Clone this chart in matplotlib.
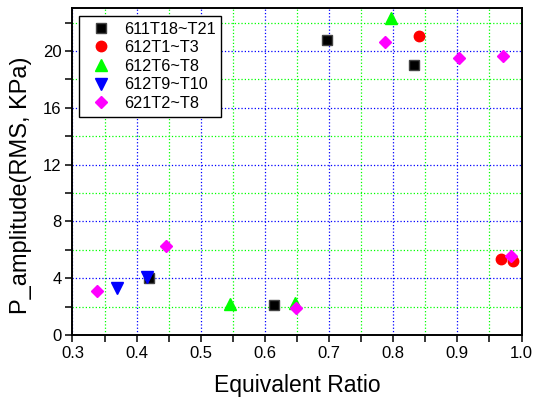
import matplotlib
matplotlib.use("Agg")
import matplotlib.pyplot as plt
from matplotlib.ticker import MultipleLocator

plt.rcParams['font.family'] = ['Liberation Sans', 'DejaVu Sans']

# series: (equivalent ratio, P amplitude)
s611_x = [0.420, 0.6145, 0.696, 0.833]
s611_y = [4.05, 2.13, 20.75, 19.0]
s612a_x = [0.840, 0.968, 0.987]
s612a_y = [21.05, 5.33, 5.2]
s612b_x = [0.545, 0.647, 0.796]
s612b_y = [2.2, 2.27, 22.3]
s612c_x = [0.370, 0.416]
s612c_y = [3.3, 4.1]
s621_x = [0.338, 0.445, 0.649, 0.7875, 0.903, 0.971, 0.983]
s621_y = [3.14, 6.3, 1.94, 20.6, 19.5, 19.67, 5.6]

labels = ['611T18~T21', '612T1~T3', '612T6~T8', '612T9~T10', '621T2~T8']

fig = plt.figure(figsize=(5.41, 3.98), dpi=100)
ax = fig.add_axes([0.134, 0.158, 0.830, 0.821])

ax.plot(s611_x, s611_y, 's', color='black', ms=6.5, mec='#444444', label=labels[0], zorder=5)
ax.plot(s612a_x, s612a_y, 'o', color='#ff0000', ms=7.5, mec='#ff0000', label=labels[1], zorder=5)
ax.plot(s612b_x, s612b_y, '^', color='#00ff00', ms=8, mec='#00ff00', label=labels[2], zorder=5)
ax.plot(s612c_x, s612c_y, 'v', color='#0000ff', ms=8, mec='#0000ff', label=labels[3], zorder=5)
ax.plot(s621_x, s621_y, 'D', color='#ff00ff', ms=6.5, mec='#ff00ff', label=labels[4], zorder=5)

ax.set_xlim(0.3, 1.0)
ax.set_ylim(0, 23)
ax.xaxis.set_major_locator(MultipleLocator(0.1))
ax.xaxis.set_minor_locator(MultipleLocator(0.05))
ax.yaxis.set_major_locator(MultipleLocator(4))
ax.yaxis.set_minor_locator(MultipleLocator(2))
ax.xaxis.set_major_formatter(plt.FormatStrFormatter('%.1f'))

ax.grid(which='major', color='#0000ff', linestyle=':', linewidth=0.9)
ax.grid(which='minor', color='#00ff00', linestyle=':', linewidth=0.9)
ax.set_axisbelow(True)

ax.tick_params(which='both', direction='out', length=5, width=1.1, labelsize=12,
               top=False, right=False, pad=3)
for sp in ax.spines.values():
    sp.set_linewidth(1.4)

ax.set_xlabel('Equivalent Ratio', fontsize=16.5, labelpad=9)
ax.set_ylabel('P_amplitude(RMS, KPa)', fontsize=17)
ax.yaxis.set_label_coords(-0.09, 0.458)

leg = ax.legend(loc='upper left', bbox_to_anchor=(0.0145, 0.977), fontsize=11.7,
                fancybox=False, edgecolor='black', framealpha=1,
                handletextpad=0.35, labelspacing=0.22, borderpad=0.35,
                handlelength=2.05, borderaxespad=0)
leg.get_frame().set_linewidth(1.0)

fig.savefig('out.png', dpi=100)
